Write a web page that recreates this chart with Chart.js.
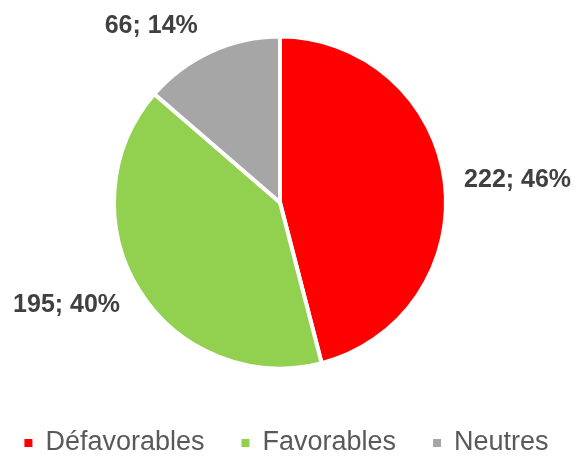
<!DOCTYPE html>
<html lang="fr">
<head>
<meta charset="UTF-8">
<title>Avis</title>
<style>
  html, body { margin: 0; padding: 0; background: #fff; }
  #wrap { width: 577px; height: 456px; position: relative; }
</style>
<script src="https://cdn.jsdelivr.net/npm/chart.js@4.4.0/dist/chart.umd.min.js"></script>
</head>
<body>
<div id="wrap"><canvas id="pie"></canvas></div>
<script>
const categories = ['Défavorables', 'Favorables', 'Neutres'];
const values = [222, 195, 66];
const colors = ['#FF0000', '#92D050', '#A6A6A6'];

const total = values.reduce((a, b) => a + b, 0);

// étiquettes "valeur; pourcentage" placées hors du camembert
const outsideLabels = {
  id: 'outsideLabels',
  afterDatasetsDraw(chart) {
    const ctx = chart.ctx;
    const meta = chart.getDatasetMeta(0);
    const nudge = [[0, 3], [-10, -2], [-32, 5]];
    ctx.save();
    ctx.font = 'bold 25px "Liberation Sans", Arial, sans-serif';
    ctx.fillStyle = '#404040';
    ctx.textAlign = 'center';
    ctx.textBaseline = 'middle';
    meta.data.forEach((arc, i) => {
      const p = arc.getProps(['x', 'y', 'startAngle', 'endAngle', 'outerRadius'], true);
      const mid = (p.startAngle + p.endAngle) / 2;
      const dx = Math.cos(mid), dy = Math.sin(mid);
      const txt = values[i] + '; ' + Math.round(values[i] / total * 100) + '%';
      const hw = ctx.measureText(txt).width / 2;
      const r = p.outerRadius + 20;
      const x = p.x + dx * r + dx * hw + nudge[i][0];
      const y = p.y + dy * r + dy * 13 + nudge[i][1];
      ctx.fillText(txt, x, y);
    });
    ctx.restore();
  }
};

// légende du bas, petits carrés comme dans Excel
const bottomLegend = {
  id: 'bottomLegend',
  afterDraw(chart) {
    const ctx = chart.ctx;
    ctx.save();
    ctx.font = '27px "Liberation Sans", Arial, sans-serif';
    ctx.textBaseline = 'middle';
    const box = 8, gapBox = 13, gapItem = 37;
    let w = 0;
    categories.forEach((c, i) => {
      w += box + gapBox + ctx.measureText(c).width;
      if (i < categories.length - 1) w += gapItem;
    });
    let x = (chart.width - w) / 2 - 2;
    const y = 443;
    categories.forEach((c, i) => {
      ctx.fillStyle = colors[i];
      ctx.fillRect(x, y - box / 2, box, box);
      x += box + gapBox;
      ctx.fillStyle = '#595959';
      ctx.fillText(c, x, y);
      x += ctx.measureText(c).width + gapItem;
    });
    ctx.restore();
  }
};

new Chart(document.getElementById('pie'), {
  type: 'pie',
  data: {
    labels: categories,
    datasets: [{
      data: values,
      backgroundColor: colors,
      borderColor: '#FFFFFF',
      borderWidth: 4
    }]
  },
  options: {
    responsive: true,
    maintainAspectRatio: false,
    animation: false,
    layout: { padding: { top: 34.5, bottom: 85.5, left: 112, right: 129 } },
    plugins: {
      legend: { display: false },
      tooltip: { enabled: false }
    }
  },
  plugins: [outsideLabels, bottomLegend]
});
</script>
</body>
</html>
